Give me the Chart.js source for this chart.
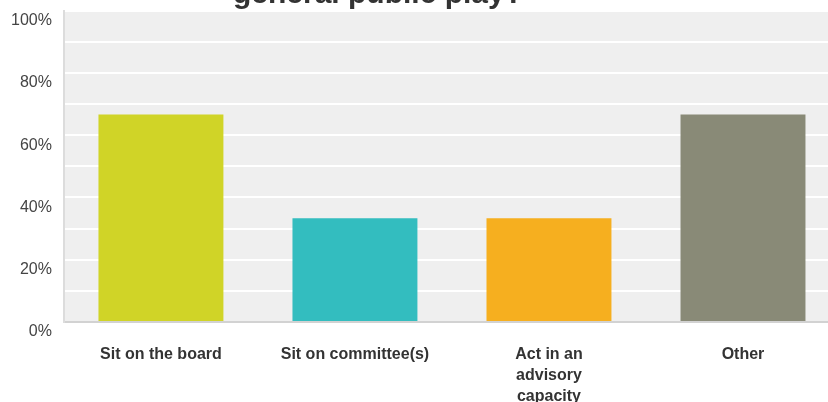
<!DOCTYPE html>
<html>
<head>
<meta charset="utf-8">
<script src="https://cdn.jsdelivr.net/npm/chart.js@4"></script>
<style>
  html, body { margin: 0; padding: 0; background: #fff; overflow: hidden; }
  #wrap { width: 840px; height: 440px; margin-top: -11px; }
</style>
</head>
<body>
<div id="wrap"><canvas id="grafico"></canvas></div>
<script>
const titulo = "general public play?";
const categorias = ["Sit on the board", "Sit on committee(s)", ["Act in an", "advisory", "capacity"], "Other"];
const valores = [66.67, 33.33, 33.33, 66.67];
const cores = ["#d0d427", "#33bdbf", "#f6af1f", "#898a77"];
const yTicks = [0, 20, 40, 60, 80, 100];

const fonte = "Arial, 'Liberation Sans', sans-serif";

// fundo cinza da area do grafico + titulo cortado no topo
const fundo = {
    id: "fundo",
    beforeDraw(chart) {
        const {ctx, chartArea} = chart;
        ctx.save();
        ctx.fillStyle = "#efefef";
        ctx.fillRect(chartArea.left, chartArea.top, chartArea.right - chartArea.left, chartArea.bottom - chartArea.top);
        ctx.restore();
    },
    afterDraw(chart) {
        const ctx = chart.ctx;
        ctx.save();
        ctx.font = "bold 30px " + fonte;
        ctx.fillStyle = "#333";
        ctx.textAlign = "center";
        ctx.textBaseline = "alphabetic";
        ctx.fillText(titulo, 378, 14);
        ctx.restore();
    }
};

const el = document.getElementById("grafico");
let GRFX = new Chart(el, {
    type: "bar",
    data: {
        labels: categorias,
        datasets: [
            {
                data: valores,
                backgroundColor: cores,
                barPercentage: 0.644,
                categoryPercentage: 1
            }
        ]
    },
    options: {
        responsive: true,
        maintainAspectRatio: false,
        animation: false,
        layout: { padding: { top: 0, left: -1, right: 0, bottom: 0 } },
        plugins: {
            legend: { display: false },
            tooltip: { enabled: false }
        },
        scales: {
            x: {
                grid: { display: false, drawTicks: false },
                border: { display: true, color: "#d2d2d2", width: 2 },
                ticks: {
                    color: "#333",
                    padding: 22,
                    maxRotation: 0,
                    autoSkip: false,
                    font: { family: fonte, size: 16, weight: "bold", lineHeight: 1.3125 }
                }
            },
            y: {
                min: 0,
                max: 100,
                grid: { color: "#ffffff", lineWidth: 2, drawTicks: false },
                border: { display: true, color: "#dcdcdc", width: 2 },
                ticks: {
                    stepSize: 10,
                    color: "#444",
                    padding: 12,
                    labelOffset: 10,
                    font: { family: fonte, size: 16 },
                    callback: (v) => yTicks.includes(v) ? v + "%" : ""
                }
            }
        }
    },
    plugins: [fundo]
});
</script>
</body>
</html>
